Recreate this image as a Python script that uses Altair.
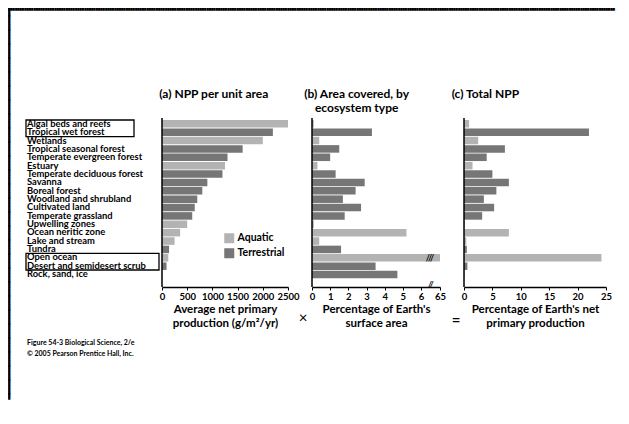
import altair as alt
import pandas as pd

categories = [
    "Algal beds and reefs", "Tropical wet forest", "Wetlands",
    "Tropical seasonal forest", "Temperate evergreen forest", "Estuary",
    "Temperate deciduous forest", "Savanna", "Boreal forest",
    "Woodland and shrubland", "Cultivated land", "Temperate grassland",
    "Upwelling zones", "Ocean neritic zone", "Lake and stream", "Tundra",
    "Open ocean", "Desert and semidesert scrub", "Rock, sand, ice",
]
eco_type = [
    "Aquatic", "Terrestrial", "Aquatic", "Terrestrial", "Terrestrial", "Aquatic",
    "Terrestrial", "Terrestrial", "Terrestrial", "Terrestrial", "Terrestrial",
    "Terrestrial", "Aquatic", "Aquatic", "Aquatic", "Terrestrial", "Aquatic",
    "Terrestrial", "Terrestrial",
]
npp_per_area = [2500, 2200, 2000, 1600, 1300, 1250, 1200, 900, 800, 700, 650, 600,
                500, 360, 250, 140, 125, 90, 3]
area_pct = [0.1, 3.3, 0.4, 1.5, 1.0, 0.3, 1.3, 2.9, 2.4, 1.7, 2.7, 1.8,
            0.1, 5.2, 0.4, 1.6, 65.0, 3.5, 4.7]
total_npp_pct = [0.9, 22.0, 2.5, 7.2, 4.0, 1.5, 5.0, 7.9, 5.7, 3.5, 5.3, 3.2,
                 0.1, 7.9, 0.4, 0.5, 24.2, 0.6, 0.05]
npp_ticks = [0, 500, 1000, 1500, 2000, 2500]
area_ticks = [0, 1, 2, 3, 4, 5, 6, 65]
total_ticks = [0, 5, 10, 15, 20, 25]
boxed_groups = [["Algal beds and reefs", "Tropical wet forest"],
                ["Open ocean", "Desert and semidesert scrub"]]
type_names = ["Aquatic", "Terrestrial"]
footer_lines = ["Figure 54-3  Biological Science, 2/e",
                "\u00a9 2005 Pearson Prentice Hall, Inc."]

df = pd.DataFrame({
    "eco": categories, "type": eco_type, "npp": npp_per_area,
    "area": area_pct, "total": total_npp_pct,
})
df["idx"] = range(len(categories))
df["mid"] = df["idx"] + 0.5

FONT = "Lato"
H = 169
N = len(categories)
BAND_RANGE = [2, 160.33]
LIGHT = "#b3b3b3"
DARK = "#767676"
one = pd.DataFrame({"k": [0]})

yband = alt.Y("eco:N", sort=categories,
              scale=alt.Scale(domain=categories, range=BAND_RANGE,
                              paddingInner=0.1, paddingOuter=0),
              axis=None)


def color_enc(legend):
    return alt.Color("type:N",
                     scale=alt.Scale(domain=type_names, range=[LIGHT, DARK]),
                     legend=legend)


def xaxis(title, values):
    return alt.Axis(title=title, values=values, grid=False, format="d",
                    domainColor="black", domainWidth=1.5,
                    tickColor="black", tickSize=3, tickWidth=1,
                    labelFont=FONT, labelFontWeight="bold", labelFontSize=9.5,
                    labelColor="black", labelPadding=1, labelFlush=False,
                    labelOverlap=False,
                    titleFont=FONT, titleFontWeight="bold", titleFontSize=11.5,
                    titleColor="black", titlePadding=3, titleLineHeight=13.5)


def yline():
    return alt.Chart(one).mark_rule(color="black", strokeWidth=1.5).encode(
        x=alt.value(0), y=alt.value(0), y2=alt.value(H))


def title(text, offset, **kw):
    return alt.TitleParams(text, anchor="start", font=FONT, fontSize=12,
                           fontWeight="bold", color="black", offset=offset, **kw)


# ---------- page frame (top and left edge), drawn as tiled block glyphs ----------
BLOCK = "\u2588"
frame_top = alt.Chart(one).mark_text(
    text=BLOCK * 400, font="DejaVu Sans", fontSize=3, color="black",
    align="left", baseline="top", limit=612, ellipsis="").encode(
    x=alt.value(0), y=alt.value(0))
frame_left = alt.Chart(one).mark_text(
    text=[BLOCK] * 140, font="DejaVu Sans", fontSize=3, lineHeight=2.8,
    color="black", align="left", baseline="top").encode(
    x=alt.value(0), y=alt.value(0))
frame_strip = alt.layer(frame_top, frame_left).properties(width=612, height=3)

# ---------- labels panel ----------
yidx = alt.Scale(domain=[0, N], range=BAND_RANGE, nice=False, zero=False)
labels = alt.Chart(df).mark_text(align="left", baseline="middle", font=FONT,
                                 fontSize=9.4, fontWeight="bold",
                                 color="black").encode(
    x=alt.value(19),
    y=alt.Y("mid:Q", scale=yidx, axis=None),
    text="eco:N",
)

box_layers = []
box_right = [126, 151]
for grp, xr in zip(boxed_groups, box_right):
    i0 = categories.index(grp[0])
    i1 = categories.index(grp[-1]) + 1
    bd = pd.DataFrame({"y0": [i0], "y1": [i1]})
    box_layers.append(
        alt.Chart(bd).mark_rect(fill=None, stroke="black", strokeWidth=1.3).encode(
            x=alt.value(18), x2=alt.value(xr),
            y=alt.Y("y0:Q", scale=yidx, axis=None), y2="y1:Q"))

footer_layers = []
for line, ypx in zip(footer_lines, [225, 236]):
    footer_layers.append(
        alt.Chart(pd.DataFrame({"t": [line]})).mark_text(
            align="left", baseline="middle", font=FONT, fontSize=7,
            fontWeight="bold", color="black").encode(
            x=alt.value(19), y=alt.value(ypx), text="t:N"))

label_panel = alt.layer(labels, *box_layers, *footer_layers).properties(
    width=130, height=H)

# ---------- panel a ----------
bars_a = alt.Chart(df).mark_bar().encode(
    x=alt.X("npp:Q", scale=alt.Scale(domain=[0, 2500], nice=False),
            axis=xaxis(["Average net primary", "production (g/m\u00b2/yr)"], npp_ticks)),
    y=yband,
    color=color_enc(alt.Legend(orient="none", legendX=62, legendY=115, title=None,
                               symbolType="square", symbolSize=100,
                               symbolStrokeWidth=0, symbolOpacity=1,
                               labelFont=FONT, labelFontSize=10.5,
                               labelFontWeight="bold", labelColor="black",
                               labelOffset=3, padding=0, rowPadding=4)),
)
panel_a = alt.layer(bars_a, yline()).properties(
    width=126, height=H, title=title("(a) NPP per unit area", 16))

# ---------- panel b ----------
bars_b = alt.Chart(df).mark_bar().encode(
    x=alt.X("area:Q",
            scale=alt.Scale(domain=[0, 6, 65], range=[0, 109, 128], nice=False,
                            zero=False),
            axis=xaxis(["Percentage of Earth's", "surface area"], area_ticks)),
    y=yband,
    color=color_enc(None),
)
brk = alt.Chart(df[df["eco"] == "Open ocean"]).mark_text(
    text="///", font=FONT, fontSize=9, fontWeight="bold", color="black",
    baseline="middle").encode(x=alt.value(118), y=yband)
axis_brk = alt.Chart(one).mark_text(
    text="//", font=FONT, fontSize=8, fontWeight="bold", color="black",
    baseline="middle").encode(x=alt.value(119), y=alt.value(H - 2))
times = alt.Chart(one).mark_text(text="\u00d7", font=FONT, fontSize=15,
                                 color="black", baseline="middle").encode(
    x=alt.value(-9), y=alt.value(200))
panel_b = alt.layer(bars_b, yline(), brk, axis_brk, times).properties(
    width=128, height=H,
    title=title(["(b) Area covered, by", "ecosystem type"], 2,
                align="center", dx=58, lineHeight=14))

# ---------- panel c ----------
bars_c = alt.Chart(df).mark_bar().encode(
    x=alt.X("total:Q", scale=alt.Scale(domain=[0, 25], nice=False),
            axis=xaxis(["Percentage of Earth's net", "primary production"],
                       total_ticks)),
    y=yband,
    color=color_enc(None),
)
equals = alt.Chart(one).mark_text(text="=", font=FONT, fontSize=15,
                                  fontWeight="bold", color="black",
                                  baseline="middle").encode(
    x=alt.value(-8), y=alt.value(202))
panel_c = alt.layer(bars_c, yline(), equals).properties(
    width=142, height=H, title=title("(c) Total NPP", 16))

main = alt.hconcat(label_panel, panel_a, panel_b, panel_c,
                   spacing=24, bounds="flush").resolve_scale(color="independent")

chart = alt.vconcat(frame_strip, main, spacing=107, bounds="flush").resolve_scale(
    color="independent").properties(padding=0, background="white").configure_view(
    stroke=None)

chart.save("out.html", embed_options={"renderer": "svg", "actions": False})
